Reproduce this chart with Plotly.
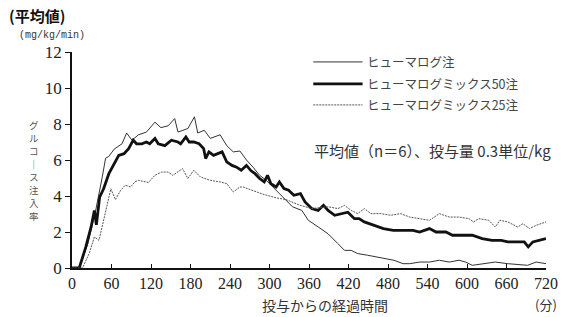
import plotly.graph_objects as go

# ---- data ----
t_huma = [0, 11, 24, 36, 46, 51, 56, 64, 76, 83, 91, 101, 113, 126, 135, 146, 156, 161, 176, 186, 191,
          201, 210, 225, 235, 245, 255, 265, 275, 285, 295, 305, 315, 325, 335, 349, 359, 374, 389, 404,
          414, 424, 434, 449, 464, 479, 489, 503, 513, 528, 543, 558, 573, 588, 598, 608, 623, 643, 662,
          692, 705, 720]
v_huma = [0, 0, 1.35, 3.2, 5.06, 6.1, 6.2, 6.6, 6.9, 7.5, 7.1, 7.4, 7.55, 8.1, 7.8, 7.9, 8.3, 7.55, 7.75,
          8.4, 7.5, 7.65, 7.2, 7.4, 6.8, 6.45, 6.5, 6.0, 5.6, 5.15, 4.87, 4.5, 4.13, 3.76, 3.4, 3.2, 2.65,
          2.28, 1.9, 1.35, 0.98, 0.98, 0.8, 0.71, 0.61, 0.52, 0.43, 0.24, 0.24, 0.33, 0.33, 0.43, 0.33,
          0.43, 0.33, 0.15, 0.24, 0.33, 0.24, 0.15, 0.33, 0.24]

t_mix50 = [0, 11, 21, 29, 34, 37, 42, 48, 56, 64, 71, 79, 86, 93, 98, 106, 113, 118, 126, 131, 141, 151,
           161, 165, 173, 178, 185, 193, 200, 203, 208, 215, 220, 228, 235, 243, 250, 257, 265, 272, 278,
           285, 292, 297, 302, 310, 315, 322, 329, 337, 347, 354, 364, 374, 382, 389, 399, 409, 419, 429,
           436, 444, 459, 473, 488, 503, 518, 528, 543, 553, 568, 578, 593, 608, 623, 638, 652, 662, 677,
           687, 693, 700, 720]
v_mix50 = [0, 0, 1.17, 2.28, 3.2, 2.4, 3.94, 4.4, 5.24, 5.8, 6.26, 6.35, 6.63, 7.1, 6.9, 6.9, 7.0, 6.9,
           7.2, 6.9, 6.8, 7.1, 7.0, 6.9, 7.28, 7.0, 7.0, 6.9, 6.63, 6.08, 6.45, 6.26, 6.35, 6.45, 5.9, 5.7,
           5.6, 5.43, 5.7, 5.4, 5.24, 4.97, 4.78, 5.15, 4.69, 4.5, 4.78, 4.41, 4.32, 4.04, 4.13, 3.67, 3.3,
           3.2, 3.48, 3.2, 2.93, 3.02, 3.1, 2.74, 2.74, 2.56, 2.37, 2.19, 2.09, 2.09, 2.09, 2.0, 2.19, 2.0,
           2.0, 1.82, 1.82, 1.82, 1.63, 1.54, 1.54, 1.45, 1.45, 1.45, 1.17, 1.45, 1.63]

t_mix25 = [0, 16, 26, 34, 41, 49, 59, 66, 74, 81, 89, 96, 101, 116, 126, 136, 146, 153, 161, 168, 176,
           185, 195, 210, 225, 235, 245, 255, 260, 275, 290, 310, 325, 345, 364, 389, 404, 414, 424, 434,
           444, 454, 469, 484, 499, 513, 528, 543, 558, 573, 588, 603, 610, 618, 633, 643, 650, 662, 677,
           685, 695, 705, 720]
v_mix25 = [0, 0, 0.8, 1.72, 1.54, 2.83, 4.4, 3.8, 4.32, 4.6, 4.5, 4.8, 4.87, 4.75, 5.15, 5.33, 5.33, 5.15,
           5.33, 5.52, 4.97, 5.43, 5.06, 4.87, 4.78, 4.69, 4.22, 4.5, 4.5, 4.3, 4.1, 3.9, 3.8, 3.5, 3.3,
           3.4, 3.3, 3.48, 3.2, 3.02, 3.3, 3.02, 3.02, 2.93, 3.02, 2.83, 2.74, 2.65, 3.02, 2.83, 2.83,
           2.74, 2.56, 2.74, 2.65, 2.28, 2.65, 2.56, 2.28, 2.46, 2.19, 2.37, 2.56]

series_names = ["ヒューマログ注", "ヒューマログミックス50注", "ヒューマログミックス25注"]
x_ticks = [0, 60, 120, 180, 240, 300, 360, 420, 480, 540, 600, 660, 720]
y_ticks = [0, 2, 4, 6, 8, 10, 12]
y_title_chars = list("グルコ｜ス注入率")

CJK = "Noto Sans CJK JP"
SERIF = "Liberation Serif, DejaVu Serif, serif"

styles = [
    dict(color="#333333", width=1.0, dash="solid"),
    dict(color="#111111", width=2.8, dash="solid"),
    dict(color="#555555", width=1.0, dash="2px,1px"),
]

fig = go.Figure()
for (t, v), name, st in zip([(t_huma, v_huma), (t_mix50, v_mix50), (t_mix25, v_mix25)],
                            series_names, styles):
    fig.add_trace(go.Scatter(x=t, y=v, mode="lines", name=name, line=st, showlegend=False))

# custom legend (line samples + labels) in paper coordinates
leg_y = [0.954, 0.852, 0.755]
for name, st, yy in zip(series_names, styles, leg_y):
    fig.add_shape(type="line", xref="paper", yref="paper", x0=0.509, x1=0.613, y0=yy, y1=yy,
                  line=st)
    fig.add_annotation(xref="paper", yref="paper", x=0.619, y=yy, text=name, showarrow=False,
                       xanchor="left", yanchor="middle", font=dict(family=CJK, size=12.5, color="#444"))

fig.add_annotation(xref="paper", yref="paper", x=0.76, y=0.546,
                   text="平均値（n＝6）、投与量 0.3単位/kg", showarrow=False,
                   xanchor="center", yanchor="middle", font=dict(family=CJK, size=15, color="#333"))

# vertical (stacked) y-axis title, one character per line, 13 px apart
for i, ch in enumerate(y_title_chars):
    py = 124.5 + 13 * i
    fig.add_annotation(xref="paper", yref="paper", x=-0.081, y=(268 - py) / 216, text=ch,
                       showarrow=False, xanchor="center", yanchor="middle",
                       font=dict(family=CJK, size=9.5, color="#555"))

fig.add_annotation(xref="paper", yref="paper", x=0.534, y=-0.17, text="投与からの経過時間",
                   showarrow=False, xanchor="center", yanchor="middle",
                   font=dict(family=CJK, size=14, color="#333"))
fig.add_annotation(xref="paper", yref="paper", x=1.027, y=-0.17, text="(分)",
                   showarrow=False, xanchor="right", yanchor="middle",
                   font=dict(family=CJK, size=13, color="#333"))

fig.add_annotation(xref="paper", yref="paper", x=-0.138, y=1.17, text="<b>(平均値)</b>",
                   showarrow=False, xanchor="left", yanchor="middle",
                   font=dict(family=CJK, size=15, color="#111"))
fig.add_annotation(xref="paper", yref="paper", x=-0.117, y=1.076, text="(mg/kg/min)",
                   showarrow=False, xanchor="left", yanchor="middle",
                   font=dict(family="Liberation Mono", size=10, color="#333"))

fig.update_layout(
    width=570, height=317,
    margin=dict(l=72, r=15, t=52, b=49),
    paper_bgcolor="white", plot_bgcolor="white",
    xaxis=dict(range=[0, 720], tickvals=x_ticks, ticktext=[str(v) for v in x_ticks],
               showgrid=False, zeroline=False, showline=True, linecolor="#111", linewidth=1.5,
               ticks="inside", ticklen=4, tickcolor="#111", tickwidth=1.2,
               tickfont=dict(family=SERIF, size=16, color="#222")),
    yaxis=dict(range=[0, 12], tickvals=y_ticks, ticktext=[str(v) for v in y_ticks],
               showgrid=False, zeroline=False, showline=True, linecolor="#111", linewidth=1.5,
               ticks="outside", ticklen=5, tickcolor="#111", tickwidth=1.2,
               tickfont=dict(family=SERIF, size=17, color="#222")),
)

fig.write_html("out.html", config={"displayModeBar": False},
               post_script="document.body.style.margin='0px';document.body.style.overflow='hidden';")
